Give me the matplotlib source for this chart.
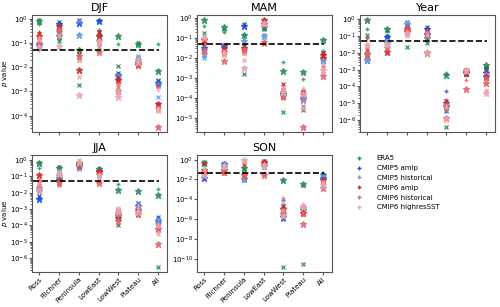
import numpy as np
import matplotlib
matplotlib.use('Agg')
import matplotlib.pyplot as plt
from matplotlib.lines import Line2D
from matplotlib.ticker import LogLocator

regions = ["Ross", "Filchner", "Peninsula", "LowEast", "LowWest", "Plateau", "All"]
groups = ["ERA5", "CMIP5 amip", "CMIP5 historical", "CMIP6 amip", "CMIP6 historical", "CMIP6 highresSST"]
colors = ['#2e8b57', '#1f4fd6', '#6f9be6', '#d62626', '#dd6a6a', '#e8a6ae']
markers = ['+', 'x', '*']

# p values per region: (+, x, *) for each group
djf_era5 = [(0.6, 0.9, 0.8), (0.15, 0.12, 0.2), (0.055, 0.0018, 0.05), (0.25, 0.3, 0.2),
            (0.09, 0.011, 0.2), (0.08, 0.1, 0.09), (0.09, 0.003, 0.007)]
djf_c5amip = [(0.07, 0.09, 0.08), (0.7, 0.75, 0.6), (0.85, 0.9, 0.7), (0.9, 0.85, 0.8),
              (0.004, 0.006, 0.005), (0.02, 0.025, 0.015), (0.0025, 0.0028, 0.0022)]
djf_c5hist = [(0.05, 0.06, 0.07), (0.4, 0.35, 0.3), (0.25, 0.8, 0.22), (0.15, 0.1, 0.12),
              (0.003, 0.005, 0.004), (0.025, 0.03, 0.02), (0.002, 0.0006, 0.0018)]
djf_c6amip = [(0.28, 0.25, 0.2), (0.45, 0.3, 0.5), (0.03, 0.035, 0.008), (0.35, 0.3, 0.2),
              (0.003, 0.004, 0.003), (0.015, 0.013, 0.012), (0.0018, 0.0003, 0.0003)]
djf_c6hist = [(0.15, 0.12, 0.1), (0.25, 0.2, 0.35), (0.025, 0.02, 0.03), (0.15, 0.07, 0.045),
              (0.002, 0.0015, 0.001), (0.02, 0.018, 0.014), (0.0015, 0.0002, 3.5e-5)]
djf_c6hr = [(0.18, 0.14, 0.07), (0.18, 0.22, 0.075), (0.02, 0.004, 0.0007), (0.1, 0.06, 0.12),
            (0.0012, 0.0009, 0.0006), (0.025, 0.02, 0.016), (0.0012, 0.00015, 0.00018)]

mam_era5 = [(0.4, 0.18, 0.8), (0.2, 0.3, 0.35), (0.14, 0.0016, 0.15), (0.28, 0.3, 0.35),
            (0.006, 2e-5, 0.0023), (0.0009, 2.5e-5, 0.002), (0.022, 0.02, 0.078)]
mam_c5amip = [(0.035, 0.04, 0.03), (0.04, 0.045, 0.04), (0.45, 0.5, 0.4), (0.4, 0.45, 0.5),
              (0.0002, 0.00025, 0.00015), (0.0002, 0.00015, 0.0001), (0.015, 0.012, 0.01)]
mam_c5hist = [(0.012, 0.01, 0.015), (0.025, 0.03, 0.02), (0.08, 0.085, 0.07), (0.14, 0.15, 0.13),
              (0.00015, 0.0002, 0.00012), (0.00012, 0.0001, 8e-5), (0.007, 0.006, 0.008)]
mam_c6amip = [(0.07, 0.06, 0.08), (0.025, 0.02, 0.03), (0.045, 0.04, 0.03), (0.75, 0.7, 0.8),
              (0.0003, 0.0005, 0.0002), (0.00025, 0.0002, 0.00015), (0.016, 0.018, 0.014)]
mam_c6hist = [(0.05, 0.02, 0.025), (0.015, 0.018, 0.007), (0.02, 0.018, 0.025), (0.06, 0.05, 0.065),
              (0.00015, 0.0001, 0.00012), (0.0001, 4e-5, 3.5e-6), (0.004, 0.003, 0.0013)]
mam_c6hr = [(0.14, 0.11, 0.1), (0.02, 0.022, 0.015), (0.015, 0.0075, 0.003), (0.5, 0.45, 0.6),
            (0.0003, 0.00025, 0.0002), (0.0003, 3e-5, 0.00015), (0.005, 0.002, 0.0025)]

jja_era5 = [(0.33, 0.68, 0.65), (0.4, 0.38, 0.35), (0.6, 0.7, 0.65), (0.32, 0.3, 0.28),
            (0.035, 0.0001, 0.015), (0.0006, 0.00045, 0.012), (0.018, 3e-7, 0.007)]
jja_c5amip = [(0.005, 0.006, 0.004), (0.1, 0.12, 0.08), (0.35, 0.4, 0.45), (0.2, 0.22, 0.18),
              (0.00022, 0.0005, 0.0004), (0.002, 0.0025, 0.0015), (0.0003, 0.00035, 0.0002)]
jja_c5hist = [(0.015, 0.02, 0.012), (0.15, 0.2, 0.1), (0.35, 0.3, 0.4), (0.25, 0.2, 0.15),
              (0.0006, 0.0007, 0.0005), (0.0015, 0.002, 0.001), (0.0002, 0.00025, 0.00015)]
jja_c6amip = [(0.06, 0.04, 0.13), (0.05, 0.04, 0.06), (0.6, 0.55, 0.5), (0.2, 0.18, 0.22),
              (0.0005, 0.0008, 0.0003), (0.001, 0.0012, 0.0008), (0.00015, 0.0001, 6e-5)]
jja_c6hist = [(0.03, 0.025, 0.02), (0.035, 0.03, 0.045), (0.8, 0.7, 0.6), (0.05, 0.045, 0.04),
              (0.0004, 0.0009, 0.0002), (0.0008, 0.0006, 0.0005), (8e-5, 5e-5, 7e-6)]
jja_c6hr = [(0.05, 0.035, 0.015), (0.2, 0.18, 0.15), (0.9, 1.0, 0.8), (0.1, 0.07, 0.13),
            (0.001, 0.0012, 0.0007), (0.0015, 0.001, 0.0007), (4e-5, 3e-5, 0.0001)]

son_era5 = [(0.4, 0.6, 0.5), (0.3, 0.25, 0.2), (0.14, 0.12, 0.14), (0.5, 0.45, 0.4),
            (0.009, 1.6e-11, 0.008), (0.003, 3e-11, 0.0035), (0.05, 0.02, 0.025)]
son_c5amip = [(0.02, 0.025, 0.015), (0.3, 0.4, 0.35), (0.015, 0.01, 0.012), (0.3, 0.35, 0.25),
              (8e-5, 1e-6, 1.5e-6), (1e-5, 1.5e-5, 8e-6), (0.02, 0.025, 0.015)]
son_c5hist = [(0.03, 0.02, 0.04), (0.4, 0.5, 0.3), (0.008, 0.02, 0.01), (0.2, 0.25, 0.3),
              (3e-5, 2e-5, 1e-5), (2e-5, 1e-5, 1.2e-5), (0.012, 0.02, 0.01)]
son_c6amip = [(0.5, 0.45, 0.08), (0.05, 0.04, 0.1), (0.04, 0.35, 0.03), (0.8, 0.7, 0.6),
              (1.5e-5, 2e-5, 1e-5), (3e-6, 7e-6, 4e-6), (0.01, 0.012, 0.008)]
son_c6hist = [(0.1, 0.05, 0.06), (0.1, 0.08, 0.06), (0.5, 0.6, 0.025), (0.05, 0.035, 0.03),
              (1.5e-4, 5e-6, 3e-6), (5e-6, 3e-6, 3e-7), (0.004, 0.003, 0.0015)]
son_c6hr = [(0.15, 0.1, 0.03), (0.2, 0.17, 0.25), (0.8, 0.7, 0.9), (0.4, 0.2, 0.3),
            (5e-5, 8e-6, 2e-6), (3e-5, 2e-5, 1.5e-5), (0.006, 0.005, 0.0025)]

year_era5 = [(0.28, 0.12, 0.9), (0.2, 0.22, 0.25), (0.2, 0.022, 0.18), (0.1, 0.04, 0.08),
             (0.0006, 4e-7, 0.0005), (0.0005, 0.0006, 0.0007), (0.0005, 0.0015, 0.0018)]
year_c5amip = [(0.005, 0.006, 0.004), (0.1, 0.1, 0.09), (0.6, 0.7, 0.5), (0.3, 0.35, 0.25),
               (5e-5, 3.5e-6, 1e-5), (0.0007, 0.0008, 0.0006), (0.0008, 0.0012, 0.0006)]
year_c5hist = [(0.007, 0.005, 0.004), (0.05, 0.06, 0.04), (0.5, 0.6, 0.55), (0.2, 0.15, 0.12),
               (1e-5, 8e-6, 6e-6), (0.0009, 0.001, 0.0008), (0.0006, 0.0005, 0.0004)]
year_c6amip = [(0.08, 0.015, 0.008), (0.03, 0.02, 0.012), (0.4, 0.3, 0.25), (0.25, 0.2, 0.14),
               (1.5e-5, 1.3e-5, 7e-6), (0.0008, 0.001, 0.0006), (0.0004, 0.0009, 0.00035)]
year_c6hist = [(0.02, 0.01, 0.008), (0.04, 0.025, 0.02), (0.35, 0.15, 0.2), (0.12, 0.1, 0.01),
               (5e-6, 4e-6, 1.3e-6), (0.00025, 0.0009, 7e-5), (0.00017, 0.0003, 0.00016)]
year_c6hr = [(0.035, 0.025, 0.03), (0.05, 0.035, 0.03), (0.12, 0.1, 0.15), (0.18, 0.11, 0.012),
             (8e-6, 6e-6, 1.1e-6), (0.001, 0.0007, 0.0009), (6e-5, 5e-5, 4e-5)]

panels = [
    ("DJF", [djf_era5, djf_c5amip, djf_c5hist, djf_c6amip, djf_c6hist, djf_c6hr]),
    ("MAM", [mam_era5, mam_c5amip, mam_c5hist, mam_c6amip, mam_c6hist, mam_c6hr]),
    ("Year", [year_era5, year_c5amip, year_c5hist, year_c6amip, year_c6hist, year_c6hr]),
    ("JJA", [jja_era5, jja_c5amip, jja_c5hist, jja_c6amip, jja_c6hist, jja_c6hr]),
    ("SON", [son_era5, son_c5amip, son_c5hist, son_c6amip, son_c6hist, son_c6hr]),
]

# axes positions [left, bottom, width, height] in figure fractions
lefts = [0.064, 0.394, 0.72, 0.064, 0.394]
bottoms = [0.57, 0.57, 0.57, 0.114, 0.114]
w, h = 0.27, 0.382

fig = plt.figure(figsize=(5, 3.07), dpi=100)
edge = '#555555'

for k, (title, data) in enumerate(panels):
    ax = fig.add_axes([lefts[k], bottoms[k], w, h])
    x = np.arange(len(regions))
    for g, gdata in enumerate(data):
        vals = np.array(gdata)
        for m, mk in enumerate(markers):
            ms = 4.5 if mk == '*' else 3.5
            ax.plot(x, vals[:, m], linestyle='none', marker=mk, color=colors[g],
                    markersize=ms, markeredgewidth=1.0, alpha=0.85)
    ax.set_yscale('log')
    if title != "SON":
        ax.yaxis.set_major_locator(LogLocator(base=10, numticks=15))
    ax.hlines(0.05, -0.3, 6.05, colors='k', linestyles='--', linewidth=1.2)
    ax.set_xlim(-0.35, 6.45)
    ax.set_title(title, fontsize=8, pad=3)
    ax.set_xticks(x)
    if bottoms[k] < 0.5:
        ax.set_xticklabels(regions, rotation=45, ha='right', rotation_mode='anchor', fontsize=5)
    else:
        ax.set_xticklabels([])
    ax.tick_params(axis='both', labelsize=5, color=edge, length=2, pad=1)
    ax.tick_params(axis='y', which='minor', length=1.2, color=edge)
    for s in ax.spines.values():
        s.set_color(edge)
        s.set_linewidth(0.8)
    if lefts[k] < 0.1:
        ax.set_ylabel(r'$p$ value', fontsize=5)
        ax.yaxis.set_label_coords(-0.16, 0.5)

handles = [Line2D([], [], linestyle='none', marker='+', color=c, markersize=3.5) for c in colors]
fig.legend(handles, groups, loc='upper left', bbox_to_anchor=(0.695, 0.51), frameon=False,
           fontsize=5, labelspacing=0.55, handletextpad=1.5, handlelength=2.0,
           borderpad=0.2)

fig.savefig('out.png', dpi=100)
